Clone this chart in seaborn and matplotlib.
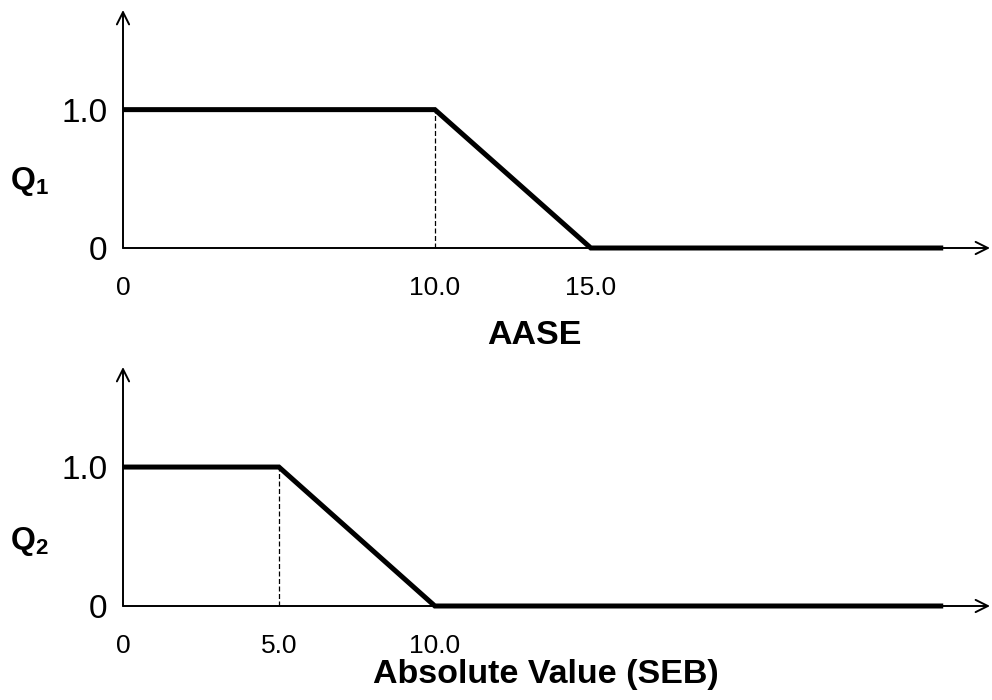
import numpy as np
import pandas as pd
import seaborn as sns
import matplotlib.pyplot as plt

# breakpoints of the two quality curves
q1_x = [0, 10, 15, 26.3]
q1_y = [1, 1, 0, 0]
q1_knee = 10
q1_ticks = [0, 10, 15]
q1_ticklabels = ["0", "10.0", "15.0"]

q2_x = [0, 5, 10, 26.3]
q2_y = [1, 1, 0, 0]
q2_knee = 5
q2_ticks = [0, 5, 10]
q2_ticklabels = ["0", "5.0", "10.0"]

y_ticks = [0, 1]
y_ticklabels = ["0", "1.0"]


def draw_panel(ax, xs, ys, knee, ticks, ticklabels):
    df = pd.DataFrame({"x": xs, "y": ys})
    sns.lineplot(x="x", y="y", data=df, ax=ax, color="black",
                 linewidth=3.6, errorbar=None, clip_on=False, zorder=3,
                 solid_capstyle="butt", solid_joinstyle="miter")
    ax.plot([knee, knee], [0, 1], color="black", linestyle=(0, (4, 2)),
            linewidth=0.9, zorder=2)
    ax.set_xlim(0, 27.8)
    ax.set_ylim(0, 1.72)
    for s in ax.spines.values():
        s.set_visible(False)
    # arrow axes
    ax.annotate("", xy=(1, 0), xytext=(0, 0), xycoords="axes fraction",
                arrowprops=dict(arrowstyle="->", color="black", lw=1.4,
                                mutation_scale=22, shrinkA=0, shrinkB=0))
    ax.annotate("", xy=(0, 1), xytext=(0, 0), xycoords="axes fraction",
                arrowprops=dict(arrowstyle="->", color="black", lw=1.4,
                                mutation_scale=22, shrinkA=0, shrinkB=0))
    ax.set_xticks(ticks)
    ax.set_xticklabels(ticklabels, fontsize=19)
    ax.set_yticks(y_ticks)
    ax.set_yticklabels(y_ticklabels, fontsize=24)
    ax.tick_params(axis="x", length=0, pad=20, colors="black")
    ax.tick_params(axis="y", length=0, pad=11, colors="black")
    ax.set_xlabel("")
    ax.set_ylabel("")


sns.set_theme(style="white")
plt.rcParams["font.family"] = ["Liberation Sans", "DejaVu Sans"]
plt.rcParams["text.color"] = "black"
plt.rcParams["mathtext.fontset"] = "custom"
plt.rcParams["mathtext.rm"] = "Liberation Sans"
plt.rcParams["mathtext.bf"] = "Liberation Sans:bold"

fig = plt.figure(figsize=(9.92, 7), dpi=100)
ax1 = fig.add_axes([123 / 992, 1 - 248 / 700, 867 / 992, 238 / 700])
ax2 = fig.add_axes([123 / 992, 1 - 606 / 700, 867 / 992, 239 / 700])

draw_panel(ax1, q1_x, q1_y, q1_knee, q1_ticks, q1_ticklabels)
draw_panel(ax2, q2_x, q2_y, q2_knee, q2_ticks, q2_ticklabels)

fig.text(10 / 992, 1 - 182 / 700, r"$\mathbf{Q_1}$", fontsize=23, va="center")
fig.text(10 / 992, 1 - 542 / 700, r"$\mathbf{Q_2}$", fontsize=23, va="center")
fig.text(534 / 992, 1 - 336 / 700, "AASE", fontsize=24.5, fontweight="bold",
         ha="center", va="center")
fig.text(546 / 992, 1 - 674 / 700, "Absolute Value (SEB)", fontsize=24.5,
         fontweight="bold", ha="center", va="center")

fig.savefig("out.png", dpi=100)
